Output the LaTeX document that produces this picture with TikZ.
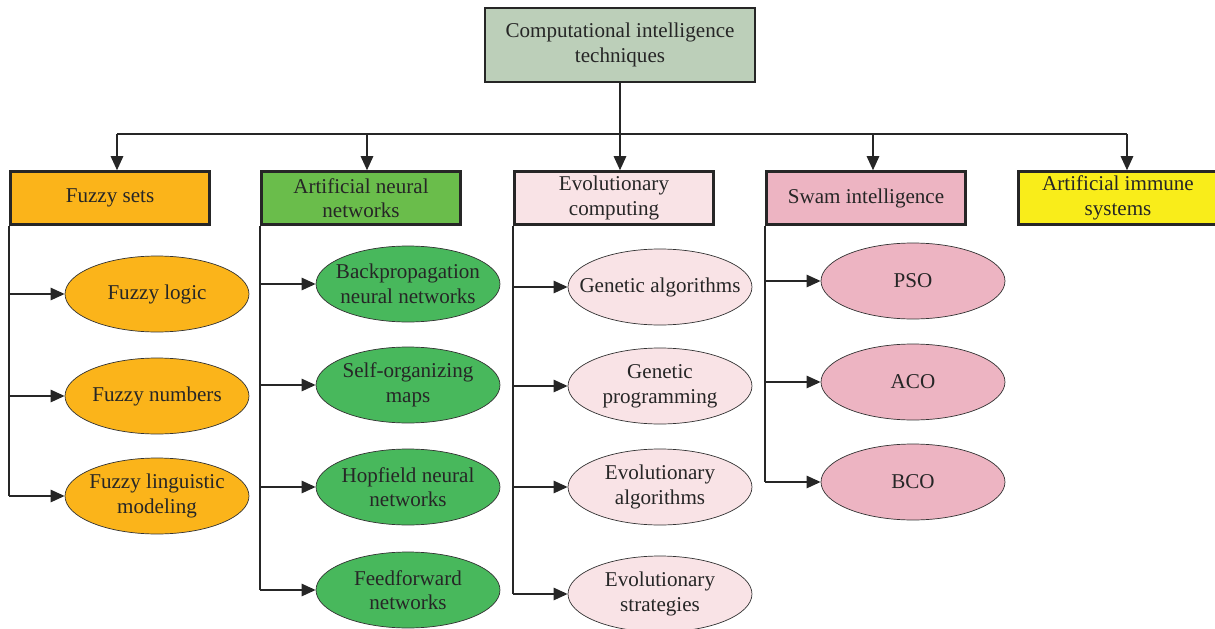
\documentclass[tikz,border=0pt]{standalone}
\usepackage{fontspec}
\setmainfont{Liberation Serif}
\usetikzlibrary{arrows.meta,shapes.geometric}

\definecolor{topgray}{HTML}{BCCFB9}
\definecolor{fuzzyorange}{HTML}{FBB41A}
\definecolor{annbox}{HTML}{6ABD4B}
\definecolor{anngreen}{HTML}{48B85C}
\definecolor{evopink}{HTML}{F9E3E6}
\definecolor{swarmpink}{HTML}{EDB4C2}
\definecolor{aisyellow}{HTML}{F9ED1A}

\tikzset{
  every node/.style={font=\fontsize{12}{14}\selectfont, text=black!85, align=center},
  catbox/.style={draw=black!85, line width=1.4pt, minimum width=3.98cm, minimum height=1.06cm, inner sep=1pt},
  leaf/.style={ellipse, draw=black!80, line width=0.4pt, minimum width=3.68cm, minimum height=1.52cm,
    inner xsep=-0.6cm, inner ysep=-0.2cm},
  link/.style={draw=black!85, line width=1.1pt},
  arr/.style={link, -{Triangle[length=8pt, width=7pt]}}
}

\begin{document}
\begin{tikzpicture}[x=0.02cm, y=-0.02cm]
  \useasboundingbox (0,0) rectangle (1215,629);

  % root
  \node[catbox, fill=topgray, minimum width=5.4cm, minimum height=1.48cm] (root) at (620,45)
    {Computational intelligence\\techniques};

  % categories
  \node[catbox, fill=fuzzyorange] (fuzzy) at (110,198) {Fuzzy sets};
  \node[catbox, fill=annbox] (ann) at (361,198) {Artificial neural\\networks};
  \node[catbox, fill=evopink] (evo) at (614,198) {Evolutionary\\computing};
  \node[catbox, fill=swarmpink] (swarm) at (866,198) {Swam intelligence};
  \node[catbox, fill=aisyellow] (ais) at (1118,198) {Artificial immune\\systems};

  % bus
  \coordinate (busL) at (117,134);
  \coordinate (busA) at (367,134);
  \coordinate (busS) at (873,134);
  \coordinate (busR) at (1127,134);
  \draw[link, line width=0.8pt] (busL) -- (busR);
  \draw[arr] (root.south) -- (root.south |- evo.north);
  \draw[arr] (busL) -- (busL |- fuzzy.north);
  \draw[arr] (busA) -- (busA |- ann.north);
  \draw[arr] (busS) -- (busS |- swarm.north);
  \draw[arr] (busR) -- (busR |- ais.north);

  % fuzzy sets
  \node[leaf, fill=fuzzyorange] (flogic) at (157,294) {Fuzzy logic};
  \node[leaf, fill=fuzzyorange] (fnum) at (157,396) {Fuzzy numbers};
  \node[leaf, fill=fuzzyorange] (fling) at (157,496) {Fuzzy linguistic\\modeling};
  \draw[link] (fuzzy.south west) -- (fuzzy.south west |- fling.west);
  \foreach \n in {flogic,fnum,fling}
    \draw[arr] (fuzzy.south west |- \n.west) -- (\n.west);

  % neural networks
  \node[leaf, fill=anngreen] (bp) at (408,284) {Backpropagation\\neural networks};
  \node[leaf, fill=anngreen] (som) at (408,385) {Self-organizing\\maps};
  \node[leaf, fill=anngreen] (hop) at (408,487) {Hopfield neural\\networks};
  \node[leaf, fill=anngreen] (ff) at (408,590) {Feedforward\\networks};
  \draw[link] (ann.south west) -- (ann.south west |- ff.west);
  \foreach \n in {bp,som,hop,ff}
    \draw[arr] (ann.south west |- \n.west) -- (\n.west);

  % evolutionary computing
  \node[leaf, fill=evopink] (ga) at (660,287) {Genetic algorithms};
  \node[leaf, fill=evopink] (gp) at (660,386) {Genetic\\programming};
  \node[leaf, fill=evopink] (ea) at (660,487) {Evolutionary\\algorithms};
  \node[leaf, fill=evopink] (es) at (660,594) {Evolutionary\\strategies};
  \draw[link] (evo.south west) -- (evo.south west |- es.west);
  \foreach \n in {ga,gp,ea,es}
    \draw[arr] (evo.south west |- \n.west) -- (\n.west);

  % swarm intelligence
  \node[leaf, fill=swarmpink] (pso) at (913,281) {PSO};
  \node[leaf, fill=swarmpink] (aco) at (913,382) {ACO};
  \node[leaf, fill=swarmpink] (bco) at (913,482) {BCO};
  \draw[link] (swarm.south west) -- (swarm.south west |- bco.west);
  \foreach \n in {pso,aco,bco}
    \draw[arr] (swarm.south west |- \n.west) -- (\n.west);
\end{tikzpicture}
\end{document}
